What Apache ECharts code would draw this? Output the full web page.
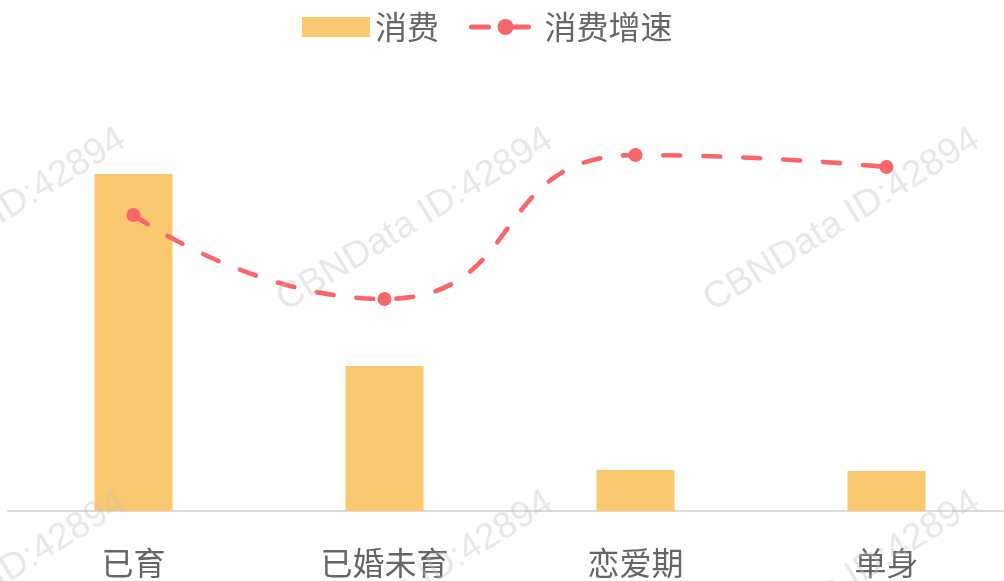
<!DOCTYPE html>
<html>
<head>
<meta charset="utf-8">
<script src="https://cdn.jsdelivr.net/npm/echarts@6/dist/echarts.min.js"></script>
<style>
  html, body { margin: 0; padding: 0; background: #fff; overflow: hidden; }
  #chart { width: 1012px; height: 581px; }
</style>
</head>
<body>
<div id="chart"></div>
<script>
// 数据
var categories = ['已育', '已婚未育', '恋爱期', '单身'];
var spending = [67.4, 29, 8.2, 8];          // 消费
var spendingGrowth = [59.2, 42.4, 71.2, 68.8]; // 消费增速
var watermarkText = 'CBNData ID:42894';
var watermarkCols = [-12, 415, 842];
var watermarkRows = [220, 583];

var mycharts = echarts.init(document.getElementById('chart'));

var marks = [];
watermarkRows.forEach(function (y) {
    watermarkCols.forEach(function (x) {
        marks.push({
            type: 'text',
            x: x,
            y: y,
            rotation: 0.553,
            z: 100,
            silent: true,
            style: {
                text: watermarkText,
                x: 0,
                y: 0,
                align: 'center',
                verticalAlign: 'middle',
                fontSize: 37,
                fontFamily: '"Liberation Sans", sans-serif',
                fill: 'rgba(190,190,190,0.36)'
            }
        });
    });
});

var dash = [17, 23];

mycharts.setOption({
    backgroundColor: '#fff',
    textStyle: { fontFamily: '"Noto Sans CJK SC", sans-serif' },
    legend: {
        top: 6,
        left: 297,
        itemWidth: 68,
        itemHeight: 20,
        itemGap: 30,
        textStyle: {
            color: '#666',
            fontSize: 32,
            fontFamily: '"Noto Sans CJK SC", sans-serif'
        },
        data: [{
            name: '消费',
            icon: 'rect'
        }, {
            name: '消费增速',
            lineStyle: { width: 5, type: dash, cap: 'round', color: '#f8656b' }
        }]
    },
    grid: {
        top: 111,
        bottom: 70,
        left: 8,
        right: 0
    },
    xAxis: [{
        type: 'category',
        data: categories,
        axisLine: {
            show: true,
            lineStyle: { color: '#dcdcdc', width: 2 }
        },
        axisTick: { show: false },
        axisLabel: {
            color: '#666',
            fontSize: 32,
            margin: 36,
            fontFamily: '"Noto Sans CJK SC", sans-serif'
        },
        splitLine: { show: false }
    }],
    yAxis: [{
        type: 'value',
        min: 0,
        max: 80,
        show: false
    }, {
        type: 'value',
        min: 0,
        max: 80,
        show: false
    }],
    series: [{
        name: '消费',
        type: 'bar',
        barWidth: 78,
        itemStyle: { color: '#fac86e' },
        data: spending
    }, {
        name: '消费增速',
        type: 'line',
        yAxisIndex: 1,
        smooth: 0.55,
        symbol: 'circle',
        symbolSize: 14,
        lineStyle: {
            width: 4.6,
            color: '#f8656b',
            type: dash,
            cap: 'round'
        },
        itemStyle: { color: '#f8656b' },
        data: spendingGrowth
    }],
    graphic: marks
});
</script>
</body>
</html>
